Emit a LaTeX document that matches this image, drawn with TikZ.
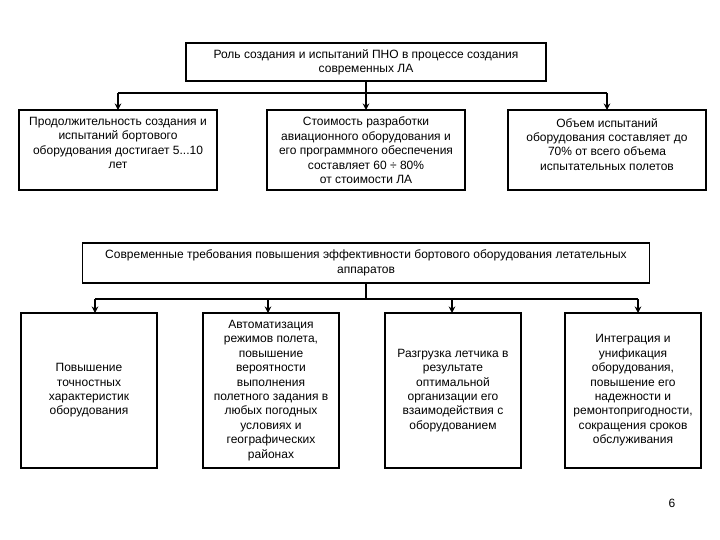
\documentclass[tikz,border=0pt]{standalone}
\usepackage{fontspec}
\setmainfont{Liberation Sans}
\usetikzlibrary{arrows.meta}
\begin{document}
\begin{tikzpicture}[x=1pt,y=-1pt,
  box/.style={draw=black,line width=1.8pt,fill=white,inner sep=0pt,outer sep=0pt,align=center,
    font=\fontsize{12}{14.4}\selectfont},
  txt/.style={inner sep=0pt,align=center,font=\fontsize{12}{14.4}\selectfont},
  conn/.style={line width=1.8pt},
  arr/.style={line width=1.8pt,-{Stealth[length=6.5pt,width=6.5pt]}}]
\useasboundingbox[fill=white] (0,0) rectangle (720,540);
% top
\node[box,minimum width=360pt,minimum height=38pt] (top) at (366,62)
  {Роль создания и испытаний ПНО в процессе создания\\современных ЛА};
\node[box,minimum width=198pt,minimum height=80pt] (b1) at (118,150) {};
\node[box,minimum width=198pt,minimum height=80pt] (b2) at (366,150) {};
\node[box,minimum width=198pt,minimum height=80pt] (b3) at (607,150) {};
\node[txt,anchor=north] (t1) at ([yshift=-7pt]b1.north)
  {Продолжительность создания и\\испытаний бортового\\оборудования достигает 5...10\\лет};
\node[txt,anchor=north] (t2) at ([yshift=-7pt]b2.north)
  {Стоимость разработки\\авиационного оборудования и\\его программного обеспечения\\составляет 60 ÷ 80\%\\от стоимости ЛА};
\node[txt,anchor=north] (t3) at ([yshift=-8pt]b3.north)
  {Объем испытаний\\оборудования составляет до\\70\% от всего объема\\испытательных полетов};
\coordinate (h1) at (366,93);
\draw[conn] (top.south) -- (h1);
\draw[conn] (b1.north |- h1) -- (b3.north |- h1);
\draw[arr] (b1.north |- h1) -- (b1.north);
\draw[arr] (h1) -- (b2.north);
\draw[arr] (b3.north |- h1) -- (b3.north);
% middle
\node[box,minimum width=567pt,minimum height=40pt] (mid) at (366,263)
  {Современные требования повышения эффективности бортового оборудования летательных\\аппаратов};
\node[box,minimum width=136pt,minimum height=155pt] (A) at (89,390.5)
  {Повышение\\точностных\\характеристик\\оборудования};
\node[box,minimum width=136pt,minimum height=155pt] (B) at (271,390.5)
  {Автоматизация\\режимов полета,\\повышение\\вероятности\\выполнения\\полетного задания в\\любых погодных\\условиях и\\географических\\районах};
\node[box,minimum width=136pt,minimum height=155pt] (C) at (453,390.5)
  {Разгрузка летчика в\\результате\\оптимальной\\организации его\\взаимодействия с\\оборудованием};
\node[box,minimum width=136pt,minimum height=155pt] (D) at (633,390.5)
  {Интеграция и\\унификация\\оборудования,\\повышение его\\надежности и\\ремонтопригодности,\\сокращения сроков\\обслуживания};
\coordinate (h2) at (366,299);
\coordinate (jA) at (95,299);
\coordinate (jB) at (268,299);
\coordinate (jC) at (452,299);
\coordinate (jD) at (638,299);
\draw[conn] (mid.south) -- (h2);
\draw[conn] (jA) -- (jD);
\draw[arr] (jA) -- (jA |- A.north);
\draw[arr] (jB) -- (jB |- B.north);
\draw[arr] (jC) -- (jC |- C.north);
\draw[arr] (jD) -- (jD |- D.north);
\node[txt] (pg) at (672,503) {6};
\end{tikzpicture}
\end{document}
